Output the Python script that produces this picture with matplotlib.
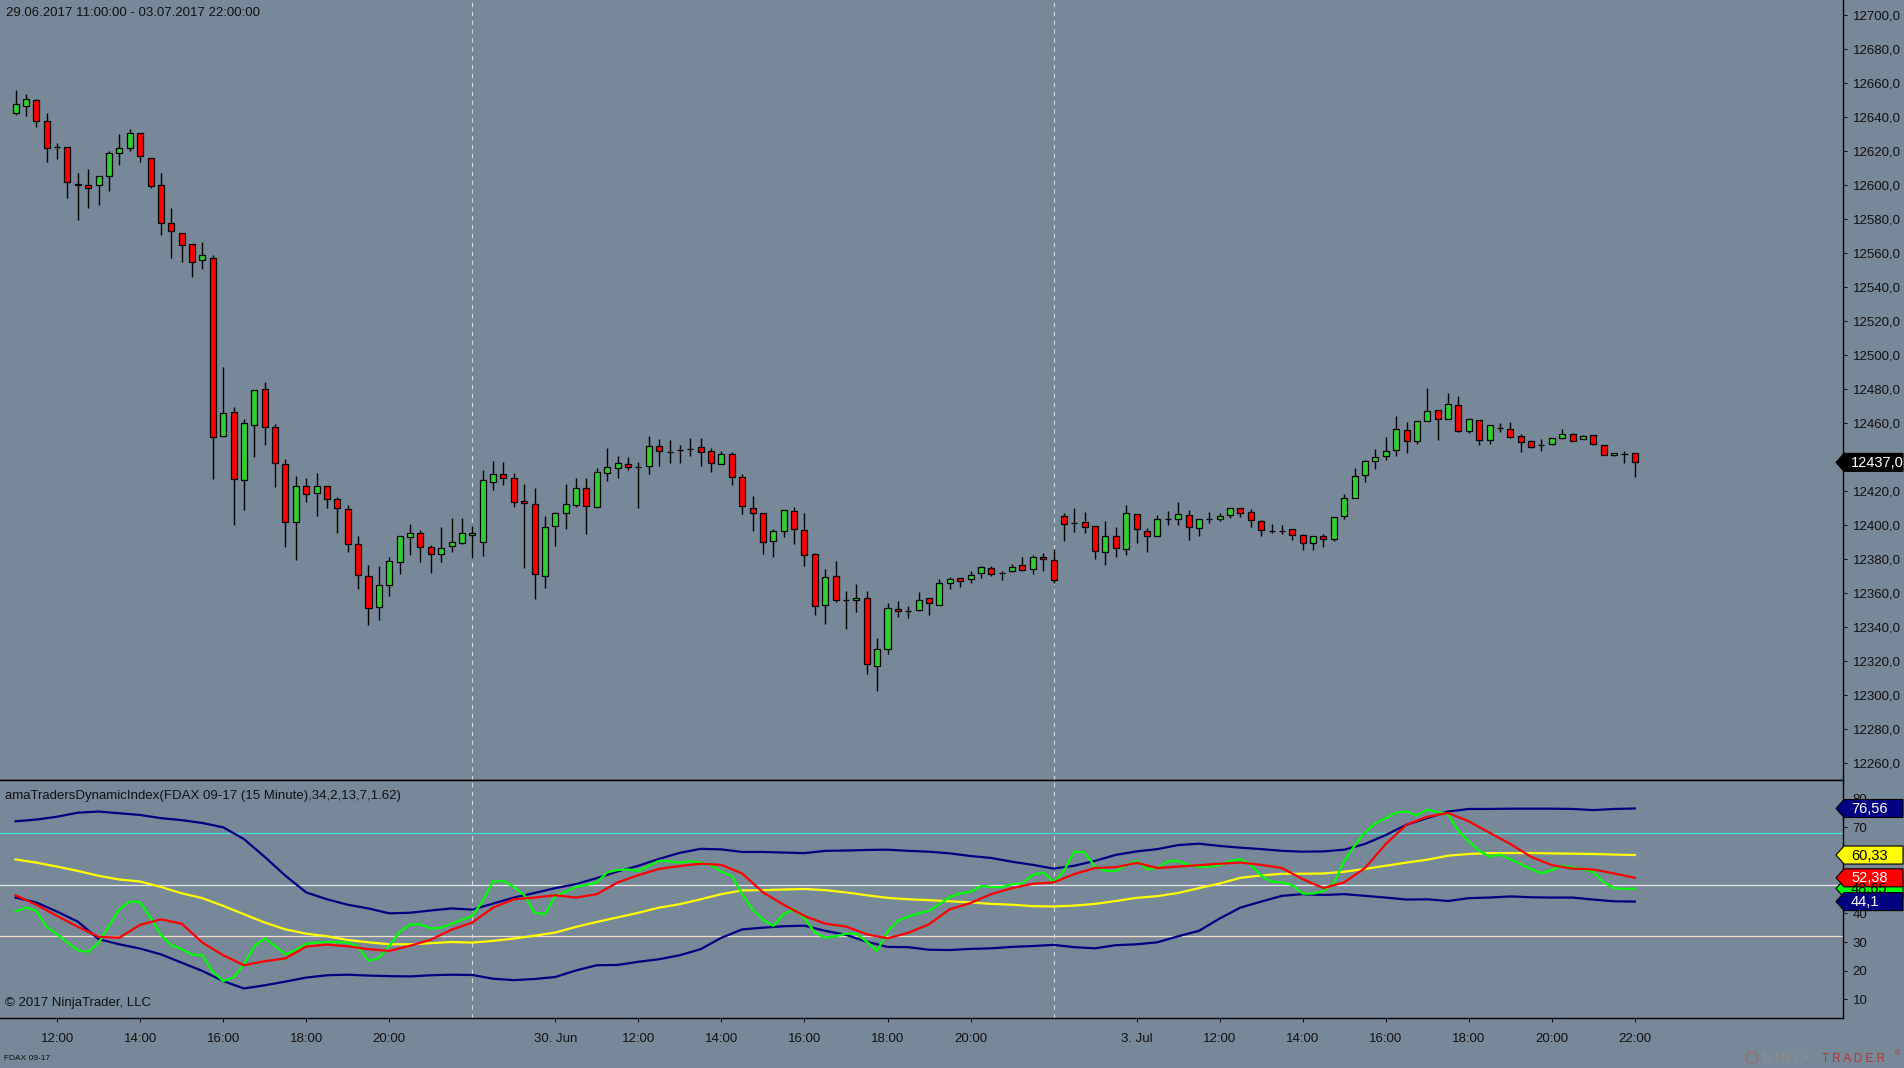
import matplotlib
matplotlib.use("Agg")
import matplotlib.pyplot as plt
from matplotlib.patches import Polygon

plt.rcParams['font.family'] = ['Liberation Sans', 'DejaVu Sans']

BG = '#778899'
INK = '#111111'
W, H = 1904, 1068

# FDAX 09-17, 15 minute bars, 29.06.2017 11:00 .. 03.07.2017 22:00 (bar index 0..156)
open_ = [12642.3, 12646.3, 12649.8, 12637.4, 12622.1, 12622.1, 12600.9, 12599.9, 12599.9, 12605.1,
         12618.8, 12621.7, 12630.5, 12616.2, 12599.9, 12577.6, 12572.1, 12565.2, 12555.7, 12557.0,
         12452.6, 12466.5, 12426.4, 12458.7, 12479.9, 12457.7, 12435.8, 12402.2, 12423.4, 12418.8,
         12423.4, 12415.3, 12409.4, 12388.8, 12370.0, 12351.8, 12364.7, 12378.2, 12392.9, 12395.3,
         12387.1, 12382.9, 12387.6, 12389.4, 12394.1, 12390.0, 12425.3, 12430.0, 12427.6, 12414.1,
         12412.3, 12370.0, 12399.4, 12407.0, 12411.7, 12421.7, 12410.6, 12430.5, 12433.5, 12435.8,
         12434.1, 12434.7, 12446.4, 12442.9, 12444.1, 12444.8, 12445.8, 12443.5, 12435.8, 12441.7,
         12428.2, 12409.9, 12407.0, 12390.5, 12396.4, 12408.2, 12397.0, 12382.9, 12352.9, 12370.0,
         12355.9, 12355.9, 12357.0, 12317.1, 12327.1, 12350.6, 12349.4, 12350.0, 12357.0, 12352.9,
         12365.9, 12368.8, 12368.2, 12371.7, 12374.7, 12372.1, 12372.9, 12376.4, 12374.1, 12381.1,
         12379.4, 12405.3, 12401.1, 12401.7, 12399.4, 12384.1, 12393.5, 12385.9, 12406.4, 12396.4,
         12393.5, 12403.5, 12403.5, 12405.8, 12398.2, 12403.9, 12403.5, 12405.8, 12410.0, 12407.6,
         12402.3, 12396.4, 12396.8, 12397.6, 12394.1, 12389.4, 12393.5, 12391.7, 12405.3, 12415.8,
         12429.4, 12437.6, 12440.5, 12444.1, 12455.8, 12449.3, 12461.1, 12467.6, 12462.3, 12470.5,
         12455.2, 12461.7, 12449.9, 12457.4, 12456.4, 12452.3, 12449.3, 12447.4, 12447.6, 12451.1,
         12453.5, 12450.5, 12452.9, 12447.0, 12441.1, 12442.1, 12442.3]
high = [12655.9, 12653.4, 12650.5, 12642.3, 12625.0, 12622.1, 12607.0, 12609.3, 12605.1, 12619.8,
        12629.9, 12632.8, 12630.5, 12616.2, 12607.0, 12586.8, 12572.1, 12565.2, 12566.5, 12558.7,
        12493.0, 12469.4, 12462.3, 12479.3, 12484.1, 12459.6, 12439.0, 12428.9, 12427.6, 12430.6,
        12423.4, 12416.5, 12411.9, 12393.7, 12376.7, 12376.1, 12381.4, 12393.5, 12400.8, 12397.0,
        12388.2, 12399.0, 12404.3, 12404.3, 12399.4, 12432.5, 12437.8, 12437.0, 12430.5, 12424.1,
        12421.7, 12405.3, 12407.6, 12424.1, 12427.6, 12427.6, 12433.5, 12445.4, 12440.5, 12440.0,
        12437.0, 12452.5, 12450.7, 12449.9, 12447.2, 12451.1, 12451.1, 12445.2, 12443.5, 12442.9,
        12429.9, 12417.0, 12407.0, 12397.6, 12408.8, 12410.5, 12407.0, 12383.5, 12374.1, 12378.8,
        12361.2, 12365.3, 12361.2, 12333.5, 12354.1, 12355.3, 12352.3, 12360.6, 12357.0, 12368.2,
        12369.4, 12368.8, 12372.9, 12375.9, 12375.9, 12372.9, 12377.0, 12381.1, 12382.3, 12383.5,
        12385.8, 12407.0, 12410.2, 12407.6, 12399.4, 12402.3, 12398.8, 12411.7, 12406.4, 12398.2,
        12405.8, 12408.2, 12413.5, 12408.8, 12403.5, 12407.6, 12407.0, 12410.0, 12410.0, 12409.4,
        12402.9, 12400.6, 12400.0, 12397.6, 12394.7, 12393.5, 12394.7, 12404.7, 12418.2, 12433.5,
        12438.2, 12444.6, 12451.7, 12464.0, 12460.5, 12461.1, 12480.5, 12467.6, 12477.6, 12475.8,
        12462.9, 12461.7, 12458.7, 12459.9, 12460.5, 12453.5, 12449.9, 12450.5, 12451.1, 12456.4,
        12454.0, 12452.9, 12452.9, 12447.0, 12442.3, 12443.5, 12442.3]
low = [12641.4, 12640.8, 12633.9, 12613.3, 12615.6, 12592.7, 12579.7, 12586.8, 12588.5, 12596.7,
       12612.0, 12620.2, 12613.3, 12598.0, 12570.9, 12557.4, 12554.5, 12546.1, 12550.9, 12427.4,
       12452.2, 12400.3, 12409.2, 12440.3, 12447.4, 12422.8, 12387.3, 12379.8, 12413.8, 12405.6,
       12410.4, 12395.7, 12384.5, 12362.7, 12341.6, 12344.5, 12358.6, 12371.6, 12382.7, 12378.6,
       12372.2, 12378.6, 12384.5, 12388.8, 12381.0, 12382.2, 12420.9, 12423.9, 12411.0, 12374.7,
       12356.9, 12363.3, 12387.6, 12398.0, 12410.6, 12395.1, 12410.6, 12426.2, 12428.0, 12432.3,
       12410.4, 12430.4, 12434.7, 12436.8, 12436.8, 12440.9, 12435.0, 12431.5, 12435.8, 12423.9,
       12406.8, 12396.8, 12383.3, 12381.5, 12393.3, 12389.2, 12376.2, 12347.4, 12342.1, 12354.7,
       12339.2, 12349.2, 12312.4, 12302.9, 12324.1, 12346.3, 12345.7, 12349.4, 12347.0, 12352.9,
       12362.3, 12363.5, 12365.9, 12368.8, 12370.0, 12367.6, 12372.3, 12372.9, 12371.1, 12372.9,
       12365.9, 12391.0, 12396.2, 12395.7, 12380.4, 12376.8, 12381.5, 12382.3, 12389.4, 12384.1,
       12393.5, 12400.0, 12400.0, 12391.5, 12393.9, 12401.1, 12402.3, 12404.1, 12404.7, 12398.8,
       12393.5, 12395.3, 12394.7, 12391.5, 12385.7, 12385.7, 12387.4, 12391.0, 12403.5, 12415.8,
       12425.2, 12432.9, 12438.2, 12440.5, 12442.3, 12447.6, 12461.1, 12449.9, 12462.3, 12454.6,
       12454.0, 12447.0, 12447.6, 12454.6, 12451.1, 12442.9, 12445.2, 12443.5, 12447.0, 12450.5,
       12449.3, 12450.5, 12447.0, 12441.1, 12440.5, 12436.8, 12428.6]
close = [12647.5, 12650.5, 12637.4, 12621.7, 12622.1, 12601.7, 12599.9, 12598.2, 12605.1, 12618.8,
         12621.7, 12630.5, 12616.9, 12599.2, 12577.6, 12572.8, 12564.6, 12554.5, 12558.7, 12452.2,
         12465.9, 12427.0, 12460.0, 12479.3, 12457.7, 12436.5, 12402.2, 12423.4, 12418.2, 12423.4,
         12415.3, 12410.0, 12388.8, 12370.6, 12351.2, 12364.7, 12378.8, 12393.5, 12395.3, 12387.1,
         12382.9, 12386.5, 12390.0, 12395.3, 12395.3, 12426.4, 12430.0, 12427.6, 12413.5, 12412.9,
         12371.2, 12398.8, 12407.0, 12412.3, 12421.7, 12411.1, 12431.1, 12434.1, 12436.4, 12434.1,
         12434.1, 12446.4, 12443.5, 12442.9, 12444.1, 12444.8, 12442.9, 12436.4, 12441.7, 12428.2,
         12411.1, 12407.0, 12390.0, 12396.4, 12408.8, 12397.6, 12382.3, 12352.3, 12369.4, 12355.9,
         12355.9, 12357.0, 12318.2, 12327.1, 12351.2, 12349.4, 12349.4, 12355.9, 12354.1, 12365.9,
         12368.2, 12367.0, 12370.6, 12375.3, 12371.1, 12372.1, 12375.3, 12373.5, 12381.1, 12380.0,
         12367.6, 12400.6, 12401.1, 12398.8, 12384.7, 12393.5, 12386.4, 12407.0, 12397.6, 12393.5,
         12403.5, 12403.5, 12406.4, 12398.8, 12403.5, 12403.9, 12405.3, 12410.0, 12407.0, 12402.9,
         12397.0, 12396.4, 12396.8, 12394.1, 12389.4, 12393.5, 12391.7, 12404.7, 12415.8, 12428.8,
         12437.6, 12439.9, 12443.5, 12456.4, 12449.3, 12461.1, 12467.0, 12462.3, 12471.1, 12455.2,
         12462.3, 12449.9, 12458.7, 12457.4, 12451.7, 12448.8, 12445.8, 12447.4, 12451.1, 12453.5,
         12449.3, 12452.3, 12447.6, 12441.1, 12442.3, 12442.1, 12437.0]

tick_idx = [4, 12, 20, 28, 36, 52, 60, 68, 76, 84, 92, 108, 116, 124, 132, 140, 148, 156]
tick_lbl = ['12:00', '14:00', '16:00', '18:00', '20:00', '30. Jun',
            '12:00', '14:00', '16:00', '18:00', '20:00', '3. Jul',
            '12:00', '14:00', '16:00', '18:00', '20:00', '22:00']
session_end = [44, 100]

# amaTradersDynamicIndex, read every second bar
even_idx = list(range(0, 157, 2))
band_up = [72.1, 72.7, 73.7, 75.1, 75.5, 74.9, 74.3, 73.2, 72.5, 71.5, 70.0, 65.9, 59.7, 53.1,
           47.3, 44.9, 43.0, 41.7, 40.0, 40.2, 41.0, 41.7, 41.3, 43.4, 45.5, 47.1, 48.8,
           50.2, 52.3, 54.6, 56.6, 59.0, 61.1, 62.5, 62.3, 61.4, 61.4, 61.2, 61.0, 61.8, 61.9,
           62.1, 62.2, 61.8, 61.5, 60.9, 60.0, 59.3, 58.0, 56.9, 55.6, 56.6, 58.3,
           60.4, 61.6, 62.4, 63.8, 64.3, 63.5, 62.9, 62.4, 61.8, 61.5, 61.6, 62.2, 64.2, 67.3,
           70.9, 73.2, 75.5, 76.4, 76.4, 76.5, 76.5, 76.5, 76.4, 76.0, 76.4, 76.56]
band_dn = [45.5, 43.8, 40.6, 37.1, 31.0, 29.2, 27.7, 25.7, 22.8, 19.9, 16.4, 13.8, 14.9, 16.2,
           17.6, 18.4, 18.6, 18.3, 18.1, 18.0, 18.4, 18.6, 18.5, 17.2, 16.7, 17.1, 17.8,
           20.1, 21.9, 22.0, 23.1, 24.0, 25.4, 27.5, 31.5, 34.4, 35.0, 35.5, 35.7, 33.9, 32.5,
           30.1, 28.3, 28.2, 27.3, 27.2, 27.6, 27.8, 28.3, 28.6, 29.0, 28.2, 27.8,
           28.9, 29.2, 29.9, 32.0, 33.9, 38.2, 42.0, 44.1, 46.1, 46.7, 46.4, 46.7, 46.1, 45.5,
           44.8, 44.9, 44.3, 45.3, 45.5, 45.9, 45.6, 45.5, 45.5, 44.8, 44.2, 44.1]
base_line = [58.8, 57.7, 56.3, 54.8, 53.1, 51.8, 51.1, 49.2, 47.0, 45.3, 42.6, 39.7, 36.8, 34.4,
             32.9, 32.0, 30.7, 29.9, 29.2, 29.2, 29.6, 30.0, 29.8, 30.4, 31.2, 32.2, 33.3,
             35.3, 37.0, 38.6, 40.2, 42.0, 43.2, 44.9, 46.7, 48.0, 48.1, 48.3, 48.5, 48.1, 47.3,
             46.3, 45.4, 44.9, 44.6, 44.2, 43.8, 43.3, 43.0, 42.5, 42.4, 42.7, 43.3,
             44.3, 45.4, 46.0, 47.1, 48.8, 50.4, 52.4, 53.2, 53.8, 53.8, 53.9, 54.5, 55.5, 56.6,
             57.7, 58.7, 60.1, 60.7, 61.0, 61.0, 61.0, 60.9, 60.8, 60.7, 60.5, 60.33]
signal = [46.3, 43.0, 39.1, 35.3, 31.8, 31.5, 36.0, 37.9, 36.4, 29.8, 25.4, 21.9, 23.3, 24.3,
          28.4, 29.1, 28.5, 27.5, 26.9, 28.7, 30.8, 34.3, 36.8, 42.0, 44.9, 45.5, 46.3,
          45.5, 46.7, 50.8, 53.3, 55.5, 56.5, 57.3, 56.9, 53.9, 47.3, 43.0, 39.1, 36.4, 35.4,
          32.7, 31.3, 33.2, 36.2, 41.4, 43.6, 46.7, 48.8, 50.3, 50.8, 53.7, 55.8,
          56.1, 57.6, 55.8, 56.3, 56.8, 57.3, 57.7, 56.9, 55.8, 51.9, 48.8, 50.8, 55.8, 64.2,
          70.9, 73.7, 75.0, 72.1, 68.1, 64.2, 59.7, 56.8, 55.6, 55.3, 53.9, 52.38]
# price line (green), read bar by bar
rsi_idx = list(range(157))
rsi = [40.6, 42.0, 40.9, 35.3, 32.7, 29.8, 27.1, 26.6, 29.8, 35.6, 41.4, 44.1, 43.9, 38.5,
       32.5, 28.9, 27.5, 25.6, 25.4, 19.6, 16.4, 17.6, 22.2, 28.6, 31.2, 28.6, 25.7, 27.2,
       29.4, 29.8, 30.0, 30.0, 29.8, 28.4, 23.4, 24.5, 28.6, 33.5, 36.1, 36.2, 34.7, 35.0,
       36.4, 37.7, 39.1, 44.3, 51.1, 51.3, 49.2, 46.4, 40.3, 39.7, 46.1, 47.5, 49.2, 49.9,
       50.8, 54.3, 55.1, 55.3, 54.8, 56.5, 58.3, 58.1, 57.7, 58.2, 57.7, 56.8, 54.5, 53.1,
       46.7, 41.4, 37.8, 35.6, 39.7, 41.4, 38.3, 33.3, 31.5, 32.0, 32.9, 32.9, 30.1, 26.9,
       33.6, 37.4, 38.9, 40.0, 40.9, 43.2, 45.7, 47.0, 47.5, 49.5, 49.2, 49.1, 50.2, 50.5,
       53.4, 54.3, 50.8, 54.8, 61.6, 61.2, 56.2, 54.8, 54.8, 56.8, 58.3, 55.4, 55.8, 58.1,
       58.3, 56.9, 56.2, 56.3, 56.8, 58.3, 58.9, 56.9, 53.1, 51.0, 50.8, 49.9, 46.9, 46.9,
       47.8, 50.5, 58.3, 63.6, 68.2, 71.4, 73.1, 75.2, 75.5, 74.1, 76.2, 75.3, 74.6, 68.8,
       65.1, 61.8, 59.8, 60.5, 58.9, 57.2, 55.4, 54.0, 55.1, 56.6, 56.0, 55.4, 54.4, 50.8,
       48.8, 48.5, 48.65]
levels = [68, 50, 32]
level_colors = ['#40e0d0', '#e8e8e8', '#f2dcc8']

n = len(close)
x = list(range(n))
xlim = (-1.5, 176.05)

fig = plt.figure(figsize=(W / 100, H / 100), dpi=100, facecolor=BG)
ax = fig.add_axes([0, 1 - 780 / H, 1843 / W, 780 / H], facecolor=BG)
ax2 = fig.add_axes([0, 1 - 1018 / H, 1843 / W, 238 / H], facecolor=BG)

# candles
body = [c - o for o, c in zip(open_, close)]
cols = ['#32cd32' if c > o else '#ff0000' for o, c in zip(open_, close)]
ax.vlines(x, low, high, color='black', lw=1.0, zorder=2)
ax.bar(x, body, bottom=open_, width=0.58, color=cols, edgecolor='black', linewidth=0.9, zorder=3)
ax.set_xlim(*xlim)
ax.set_ylim(12250.3, 12708.8)

# indicator
for lv, lc in zip(levels, level_colors):
    ax2.axhline(lv, color=lc, lw=0.9, zorder=1)
ax2.plot(even_idx, band_up, color='#000080', lw=1.6, zorder=3)
ax2.plot(even_idx, band_dn, color='#000080', lw=1.6, zorder=3)
ax2.plot(even_idx, base_line, color='#ffff00', lw=1.6, zorder=3)
ax2.plot(rsi_idx, rsi, color='#00ff00', lw=1.6, zorder=4)
ax2.plot(even_idx, signal, color='#ff0000', lw=1.6, zorder=5)
ax2.set_xlim(*xlim)
ax2.set_ylim(3.5, 86.5)

for a in (ax, ax2):
    for s in session_end:
        a.axvline(s, color='#d8d8d8', lw=0.8, ls=(0, (4, 4)), zorder=1)
    a.spines['left'].set_visible(False)
    for side in ('top', 'right', 'bottom'):
        a.spines[side].set_color('black')
        a.spines[side].set_linewidth(1.0)
    a.yaxis.tick_right()
    a.tick_params(axis='y', direction='out', length=3, width=0.75, pad=4,
                  labelsize=9.5, colors=INK)
ax.spines['top'].set_visible(False)

price_ticks = list(range(12260, 12701, 20))
ax.set_yticks(price_ticks)
ax.set_yticklabels([f'{p},0' for p in price_ticks])
ax.tick_params(axis='x', bottom=False, labelbottom=False)

ind_ticks = list(range(10, 81, 10))
ax2.set_yticks(ind_ticks)
ax2.set_yticklabels([str(t) for t in ind_ticks])
ax2.set_xticks(tick_idx)
ax2.set_xticklabels(tick_lbl)
ax2.tick_params(axis='x', direction='out', length=3, width=0.75, pad=8,
                labelsize=9.5, colors=INK)

# overlay in pixel coordinates for texts and value tags
ov = fig.add_axes([0, 0, 1, 1], zorder=10)
ov.set_xlim(0, W)
ov.set_ylim(H, 0)
ov.axis('off')
ov.patch.set_alpha(0)


def to_px(axis, v):
    return H - axis.transData.transform((0, v))[1]


def value_tag(y, text, face, fg):
    pts = [(1836, y), (1844, y - 9), (1903, y - 9), (1903, y + 9), (1844, y + 9)]
    ov.add_patch(Polygon(pts, closed=True, facecolor=face, edgecolor='black', lw=0.8))
    ov.text(1851, y + 0.5, text, color=fg, fontsize=10.5, va='center', ha='left')


def fmt(v):
    return f'{v:g}'.replace('.', ',')


value_tag(to_px(ax, close[-1]), f'{close[-1]:.1f}'.replace('.', ','), 'black', 'white')
value_tag(to_px(ax2, rsi[-1]), fmt(rsi[-1]), '#00ff00', 'black')
value_tag(to_px(ax2, band_up[-1]), fmt(band_up[-1]), '#000080', 'white')
value_tag(to_px(ax2, base_line[-1]), fmt(base_line[-1]), '#ffff00', 'black')
value_tag(to_px(ax2, signal[-1]), fmt(signal[-1]), '#ff0000', 'white')
value_tag(to_px(ax2, band_dn[-1]), fmt(band_dn[-1]), '#000080', 'white')

ov.text(6, 13, '29.06.2017 11:00:00 - 03.07.2017 22:00:00', fontsize=9.5, color=INK, va='center')
ov.text(5, 796, 'amaTradersDynamicIndex(FDAX 09-17 (15 Minute),34,2,13,7,1.62)',
        fontsize=9.5, color=INK, va='center')
ov.text(5, 1003, '\u00a9 2017 NinjaTrader, LLC', fontsize=9.5, color=INK, va='center')
ov.text(4, 1059, 'FDAX 09-17', fontsize=6, color=INK, va='center')

# NinjaTrader logo
ov.add_patch(plt.Circle((1752, 1058), 6, facecolor='none', edgecolor='#9a7070', lw=1.2))
ov.text(1763, 1059, 'N I N J A', fontsize=8.5, color='#8f8f8f', va='center')
ov.text(1822, 1059, 'T R A D E R', fontsize=8.5, color='#c03030', va='center')
ov.text(1895, 1054, '\u00ae', fontsize=5, color='#c03030', va='center')

fig.savefig('out.png', dpi=100, facecolor=BG)
